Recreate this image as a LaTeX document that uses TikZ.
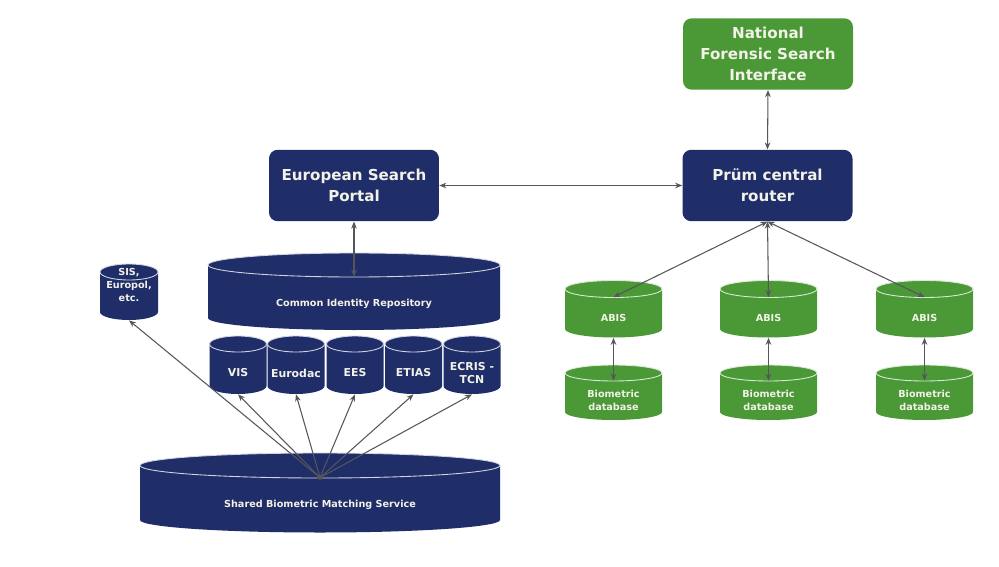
\documentclass[tikz,border=0pt]{standalone}
\usepackage{fontspec}
\setmainfont{DejaVu Sans}
\usetikzlibrary{arrows.meta}
\definecolor{navy}{RGB}{31,45,104}
\definecolor{leaf}{RGB}{74,152,54}
\definecolor{txt}{RGB}{242,242,232}
\definecolor{wire}{RGB}{85,85,92}
\tikzset{
  box/.style={rounded corners=5pt, text=txt, font=\bfseries\fontsize{8.6}{12}\selectfont,
    align=center, inner sep=0pt, minimum width=3.4cm, minimum height=1.43cm},
  tip/.tip={Stealth[length=4pt,width=3.2pt]},
  conn/.style={draw=wire, line width=0.6pt, tip-tip},
  oneway/.style={draw=wire, line width=0.6pt, -tip},
  cyltext/.style={text=txt, font=\bfseries\fontsize{5.5}{7.4}\selectfont, align=center, inner sep=0pt},
  smalltext/.style={font=\bfseries\fontsize{6.2}{7.6}\selectfont}
}
% #1 name, #2 cx, #3 top ellipse centre y (px), #4 bottom ellipse centre y (px),
% #5 rx, #6 ry, #7 fill colour, #8 extra node options, #9 text
\newcommand\dbcyl[9]{%
  \fill[#7] (#2-#5,-#3) -- (#2-#5,-#4)
    arc[start angle=180,end angle=360,x radius=#5,y radius=#6]
    -- (#2+#5,-#3)
    arc[start angle=0,end angle=180,x radius=#5,y radius=#6] -- cycle;
  \draw[white!80!#7, line width=0.5pt] (#2,-#3) ellipse[x radius=#5,y radius=#6];
  \node[cyltext, minimum width={2*#5*0.02cm}, minimum height={(#4-#3)*0.02cm}, #8]
    (#1) at (#2,{-(#3+#4)/2-#6}) {#9};
}
\begin{document}
\begin{tikzpicture}[x=0.02cm,y=0.02cm]
\useasboundingbox[fill=white] (0,0) rectangle (999,-567);

% boxes
\node[box, fill=leaf] (nfsi) at (768,-54) {National\\Forensic Search\\Interface};
\node[box, fill=navy] (prum) at (767.5,-185.5) {Prüm central\\router};
\node[box, fill=navy] (esp) at (354,-185.5) {European Search\\Portal};

% left cylinders
\dbcyl{cir}{354}{265}{318}{146}{12}{navy}{}{Common Identity Repository}
\dbcyl{sis}{129}{272}{312}{29}{8}{navy}{}{}
\node[cyltext] (sistext) at (129,-285) {SIS,\\Europol,\\etc.};
\dbcyl{vis}{238}{344}{386}{28.5}{8}{navy}{smalltext}{VIS}
\dbcyl{eurodac}{296}{344}{386}{28.5}{8}{navy}{smalltext}{Eurodac}
\dbcyl{ees}{355}{344}{386}{28.5}{8}{navy}{smalltext}{EES}
\dbcyl{etias}{413.5}{344}{386}{28.5}{8}{navy}{smalltext}{ETIAS}
\dbcyl{ecris}{472}{344}{386}{28.5}{8}{navy}{smalltext}{ECRIS -\\TCN}
\dbcyl{sbms}{320}{465.5}{520}{180}{12.5}{navy}{}{Shared Biometric Matching Service}

% right cylinders
\dbcyl{abisa}{613.5}{289}{329}{48.5}{8.5}{leaf}{}{ABIS}
\dbcyl{abisb}{768.5}{289}{329}{48.5}{8.5}{leaf}{}{ABIS}
\dbcyl{abisc}{924.5}{289}{329}{48.5}{8.5}{leaf}{}{ABIS}
\dbcyl{dba}{613.5}{373}{412}{48.5}{8}{leaf}{}{Biometric\\database}
\dbcyl{dbb}{768.5}{373}{412}{48.5}{8}{leaf}{}{Biometric\\database}
\dbcyl{dbc}{924.5}{373}{412}{48.5}{8}{leaf}{}{Biometric\\database}

% connectors
\draw[conn] (esp.east) -- (prum.west);
\draw[conn] (nfsi.south) -- (prum.north);
\draw[conn] (esp.south) -- (cir.north);
\draw[conn] (prum.south) -- (abisa.north);
\draw[conn] (prum.south) -- (abisb.north);
\draw[conn] (prum.south) -- (abisc.north);
\draw[conn] (abisa.south) -- (dba.north);
\draw[conn] (abisb.south) -- (dbb.north);
\draw[conn] (abisc.south) -- (dbc.north);
\foreach \t in {sis,vis,eurodac,ees,etias,ecris}
  \draw[oneway] (sbms.north) -- (\t.south);
\fill[wire] (sbms.north) ellipse[x radius=3,y radius=2];
\end{tikzpicture}
\end{document}
